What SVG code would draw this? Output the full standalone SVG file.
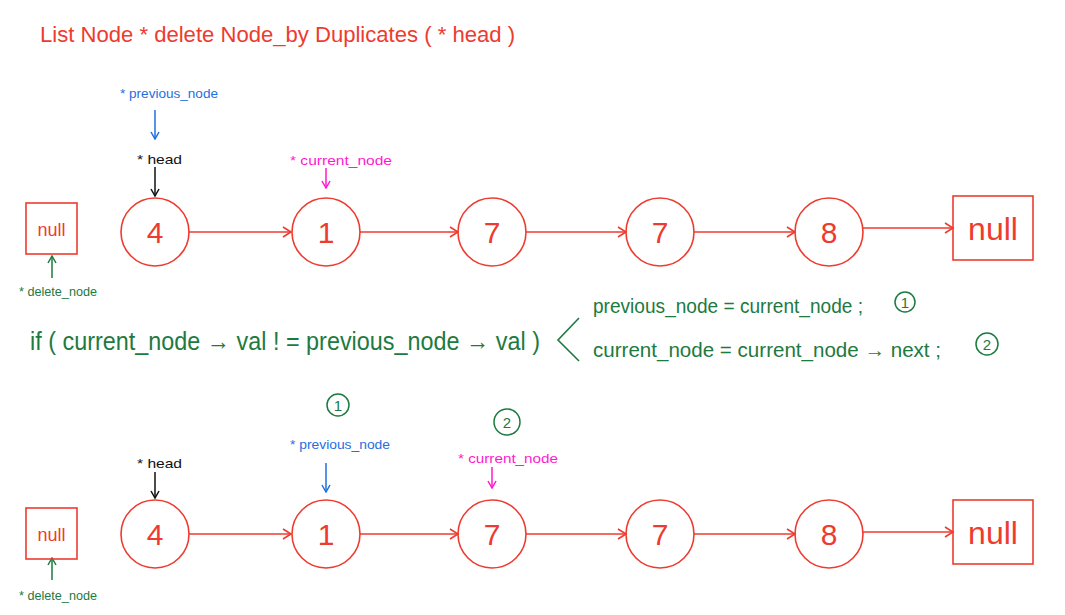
<svg xmlns="http://www.w3.org/2000/svg" width="1065" height="615" viewBox="0 0 1065 615">
<defs>
<style>
text{font-family:"Liberation Sans","DejaVu Sans",sans-serif}
.red{fill:#ee3b2f}
.node{fill:none;stroke:#ee3b2f;stroke-width:1.6}
.val{fill:#ee3b2f;font-size:30px;text-anchor:middle;font-weight:300}
.link{stroke:#ee3b2f;stroke-width:1.6;fill:none;marker-end:url(#ar)}
.grn{fill:#1d7a40}
.blu{fill:#1f6fe0}
.mag{fill:#ff1ad0}
.blk{fill:#111}
.lbl{font-size:13px}
.circ{fill:none;stroke:#1d7a40;stroke-width:1.5}
</style>
<marker id="ar" markerWidth="12" markerHeight="12" refX="10" refY="6" orient="auto" markerUnits="userSpaceOnUse">
<path d="M2,1 L10,6 L2,11" fill="none" stroke="#ee3b2f" stroke-width="1.6"/>
</marker>
<marker id="ab" markerWidth="10" markerHeight="10" refX="9" refY="5" orient="auto" markerUnits="userSpaceOnUse" viewBox="0 0 10 10">
<path d="M2,1 L9,5 L2,9" fill="none" stroke="context-stroke" stroke-width="1.5"/>
</marker>
</defs>
<rect width="1065" height="615" fill="#fff"/>
<text x="40" y="42" class="red" font-size="22" textLength="475" lengthAdjust="spacingAndGlyphs">List Node *  delete Node_by Duplicates ( * head )</text>

<g id="connectors">
<line class="link" x1="189" y1="232" x2="291" y2="232"/>
<line class="link" x1="360" y1="232" x2="458" y2="232"/>
<line class="link" x1="526" y1="232" x2="626" y2="232"/>
<line class="link" x1="694" y1="232" x2="795" y2="232"/>
<line class="link" x1="863" y1="228" x2="953" y2="228"/>
<line class="link" x1="189" y1="534" x2="291" y2="534"/>
<line class="link" x1="360" y1="534" x2="458" y2="534"/>
<line class="link" x1="526" y1="534" x2="626" y2="534"/>
<line class="link" x1="694" y1="534" x2="795" y2="534"/>
<line class="link" x1="863" y1="532" x2="953" y2="532"/>
<g fill="none" stroke-width="1.5" marker-end="url(#ab)">
<line x1="155" y1="110" x2="155" y2="139" stroke="#1f6fe0"/>
<line x1="155" y1="167" x2="155" y2="196" stroke="#111"/>
<line x1="326" y1="168" x2="326" y2="188" stroke="#ff1ad0"/>
<line x1="52" y1="278" x2="52" y2="256" stroke="#1d7a40"/>
<line x1="155" y1="472" x2="155" y2="498" stroke="#111"/>
<line x1="326" y1="463" x2="326" y2="492" stroke="#1f6fe0"/>
<line x1="492" y1="467" x2="492" y2="488" stroke="#ff1ad0"/>
<line x1="52" y1="580" x2="52" y2="558" stroke="#1d7a40"/>
</g>
</g>

<g id="top-null-left"><rect class="node" x="26" y="203" width="51" height="51"/><text x="51.5" y="236" class="red" font-size="18" text-anchor="middle">null</text></g>
<g id="top-n1"><circle class="node" cx="155" cy="232" r="34"/><text x="155" y="243" class="val">4</text></g>
<g id="top-n2"><circle class="node" cx="326" cy="232" r="34"/><text x="326" y="243" class="val">1</text></g>
<g id="top-n3"><circle class="node" cx="492" cy="232" r="34"/><text x="492" y="243" class="val">7</text></g>
<g id="top-n4"><circle class="node" cx="660" cy="232" r="34"/><text x="660" y="243" class="val">7</text></g>
<g id="top-n5"><circle class="node" cx="829" cy="232" r="34"/><text x="829" y="243" class="val">8</text></g>
<g id="top-null-right"><rect class="node" x="953" y="196" width="80" height="64"/><text x="993" y="240" class="red" font-size="32" text-anchor="middle" font-weight="300">null</text></g>

<g id="top-labels">
<text x="120" y="98" class="blu lbl" textLength="98" lengthAdjust="spacingAndGlyphs">* previous_node</text>
<text x="137" y="164" class="blk lbl" textLength="45" lengthAdjust="spacingAndGlyphs">* head</text>
<text x="290" y="165" class="mag lbl" textLength="102" lengthAdjust="spacingAndGlyphs">* current_node</text>
<text x="19" y="296" class="grn lbl" textLength="78" lengthAdjust="spacingAndGlyphs">* delete_node</text>
</g>

<g id="code">
<text x="30" y="350" class="grn" font-size="25" textLength="510" lengthAdjust="spacingAndGlyphs">if ( current_node → val  ! = previous_node → val )</text>
<path d="M579,318 L558,340 L579,361" fill="none" stroke="#1d7a40" stroke-width="1.6"/>
<text x="593" y="313" class="grn" font-size="20" textLength="270" lengthAdjust="spacingAndGlyphs">previous_node = current_node ;</text>
<text x="593" y="357" class="grn" font-size="20" textLength="348" lengthAdjust="spacingAndGlyphs">current_node = current_node → next ;</text>
<circle class="circ" cx="905" cy="302" r="10"/><text x="905" y="308" class="grn" font-size="15" text-anchor="middle">1</text>
<circle class="circ" cx="987" cy="344" r="11"/><text x="987" y="350" class="grn" font-size="15" text-anchor="middle">2</text>
</g>

<g id="bot-null-left"><rect class="node" x="26" y="508" width="51" height="51"/><text x="51.5" y="541" class="red" font-size="18" text-anchor="middle">null</text></g>
<g id="bot-n1"><circle class="node" cx="155" cy="534" r="34"/><text x="155" y="545" class="val">4</text></g>
<g id="bot-n2"><circle class="node" cx="326" cy="534" r="34"/><text x="326" y="545" class="val">1</text></g>
<g id="bot-n3"><circle class="node" cx="492" cy="534" r="34"/><text x="492" y="545" class="val">7</text></g>
<g id="bot-n4"><circle class="node" cx="660" cy="534" r="34"/><text x="660" y="545" class="val">7</text></g>
<g id="bot-n5"><circle class="node" cx="829" cy="534" r="34"/><text x="829" y="545" class="val">8</text></g>
<g id="bot-null-right"><rect class="node" x="953" y="500" width="80" height="64"/><text x="993" y="544" class="red" font-size="32" text-anchor="middle" font-weight="300">null</text></g>

<g id="bot-labels">
<circle class="circ" cx="338" cy="405" r="11"/><text x="338" y="411" class="grn" font-size="15" text-anchor="middle">1</text>
<circle class="circ" cx="507" cy="422" r="13"/><text x="507" y="428" class="grn" font-size="15" text-anchor="middle">2</text>
<text x="290" y="449" class="blu lbl" textLength="100" lengthAdjust="spacingAndGlyphs">* previous_node</text>
<text x="137" y="468" class="blk lbl" textLength="45" lengthAdjust="spacingAndGlyphs">* head</text>
<text x="458" y="463" class="mag lbl" textLength="100" lengthAdjust="spacingAndGlyphs">* current_node</text>
<text x="19" y="600" class="grn lbl" textLength="78" lengthAdjust="spacingAndGlyphs">* delete_node</text>
</g>
</svg>
